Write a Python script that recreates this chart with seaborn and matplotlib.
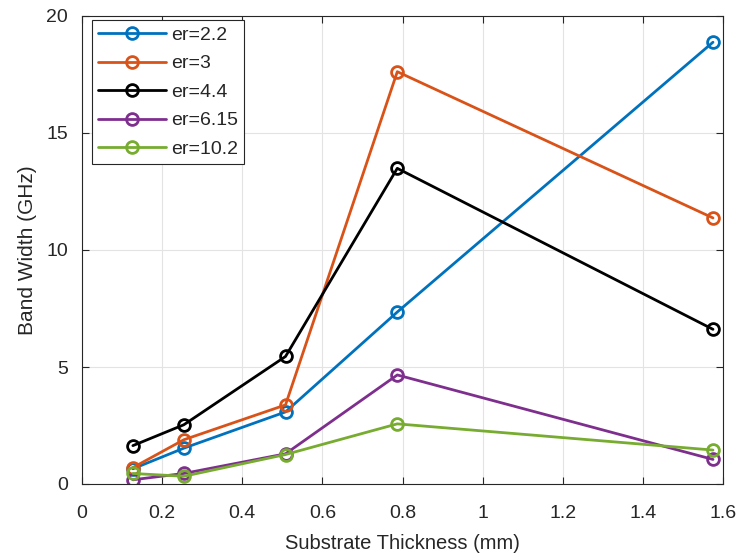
import matplotlib
matplotlib.use("Agg")
import matplotlib.pyplot as plt
import seaborn as sns
import pandas as pd

thickness = [0.127, 0.254, 0.508, 0.787, 1.575]
labels = ["er=2.2", "er=3", "er=4.4", "er=6.15", "er=10.2"]
bw_22 = [0.65, 1.53, 3.08, 7.35, 18.88]
bw_3 = [0.70, 1.89, 3.38, 17.62, 11.37]
bw_44 = [1.64, 2.53, 5.45, 13.49, 6.61]
bw_615 = [0.18, 0.45, 1.29, 4.66, 1.05]
bw_102 = [0.45, 0.33, 1.26, 2.57, 1.45]
series = [bw_22, bw_3, bw_44, bw_615, bw_102]
colors = ["#0072BD", "#D95319", "#000000", "#7E2F8E", "#77AC30"]

sns.set_theme(style="white")
plt.rcParams['font.family'] = ['Liberation Sans', 'DejaVu Sans']

fig = plt.figure(figsize=(7.42, 5.56), dpi=100)
ax = fig.add_axes([82/742, 1-484/556, (723-82)/742, (484-16)/556])

for lab, vals, c in zip(labels, series, colors):
    df = pd.DataFrame({"x": thickness, "y": vals})
    sns.lineplot(data=df, x="x", y="y", ax=ax, color=c, label=lab,
                 marker="o", markersize=8.5, markerfacecolor="none",
                 markeredgecolor=c, markeredgewidth=2, linewidth=2)

ax.set_xlim(0, 1.6)
ax.set_ylim(0, 20)
ax.set_xticks([0, 0.2, 0.4, 0.6, 0.8, 1, 1.2, 1.4, 1.6])
ax.set_xticklabels(["0", "0.2", "0.4", "0.6", "0.8", "1", "1.2", "1.4", "1.6"])
ax.set_yticks([0, 5, 10, 15, 20])
ax.grid(True, color="#e3e3e3", linewidth=0.8)
ax.set_axisbelow(True)
for s in ax.spines.values():
    s.set_color("#262626")
    s.set_linewidth(0.8)
ax.tick_params(direction="in", length=5, width=0.8, color="#262626",
               top=True, right=True, bottom=True, left=True,
               labelsize=14, labelcolor="#262626")
ax.tick_params(axis="x", pad=15)
ax.tick_params(axis="y", pad=10)
ax.set_xlabel("Substrate Thickness (mm)", fontsize=14.5, color="#262626", labelpad=9)
ax.set_ylabel("Band Width (GHz)", fontsize=15, color="#262626", labelpad=7)

leg = ax.legend(loc="upper left", bbox_to_anchor=(10/641, 1-4/468),
                borderaxespad=0, fontsize=14, handlelength=3.5,
                labelspacing=0.56, borderpad=0.32,
                handletextpad=0.25, fancybox=False, framealpha=1,
                edgecolor="#262626")
leg.get_frame().set_linewidth(0.8)

fig.savefig("out.png", dpi=100)
